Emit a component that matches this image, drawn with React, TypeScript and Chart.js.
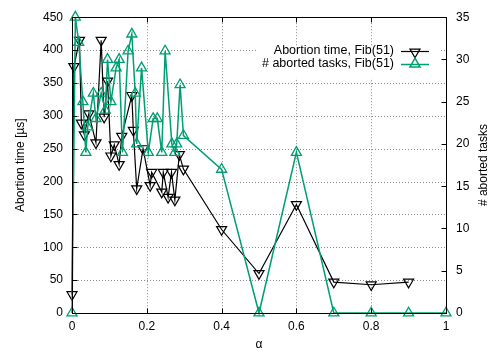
import React, { useEffect, useRef } from "react";
import { Chart, registerables } from "chart.js";

Chart.register(...registerables);

// Abortion time [µs] (left axis) vs alpha
const timeAlpha = [0, 0.005, 0.02, 0.025, 0.033, 0.045, 0.064, 0.078, 0.086, 0.095, 0.104, 0.113, 0.126, 0.133, 0.16, 0.164, 0.173, 0.19, 0.209, 0.213, 0.24, 0.244, 0.257, 0.266, 0.275, 0.287, 0.298, 0.4, 0.5, 0.6, 0.7, 0.8, 0.9];
const timeValues = [28, 375, 415, 289, 271, 303, 259, 415, 298, 353, 239, 256, 226, 269, 331, 278, 189, 250, 194, 214, 184, 214, 176, 214, 172, 241, 219, 127, 60, 165, 47, 43, 47];

// # aborted tasks (right axis) vs alpha
const taskAlpha = [0, 0.009, 0.018, 0.029, 0.037, 0.042, 0.057, 0.064, 0.078, 0.089, 0.095, 0.104, 0.118, 0.126, 0.135, 0.15, 0.16, 0.169, 0.173, 0.186, 0.204, 0.217, 0.228, 0.24, 0.249, 0.267, 0.275, 0.28, 0.289, 0.298, 0.4, 0.5, 0.6, 0.7, 0.8, 0.9, 1.0];
const taskValues = [0, 35, 32, 25, 19, 22, 26, 23, 26, 24, 30, 25, 29, 30, 19, 31, 33, 26, 20, 29, 19, 23, 23, 19, 31, 20, 19, 20, 27, 21, 17, 0, 19, 0, 0, 0, 0];

const xTickLabels = ["0", "0.2", "0.4", "0.6", "0.8", "1"];
const seriesLabels = ["Abortion time, Fib(51)", "# aborted tasks, Fib(51)"];
const axisTitles = { x: "α", y: "Abortion time [µs]", y2: "# aborted tasks" };

const BLACK = "#000000";
const GREEN = "#009e73";
const FONT = "'Liberation Sans', Arial, sans-serif";

function drawTri(ctx: CanvasRenderingContext2D, x: number, y: number, r: number, down: boolean) {
  const dir = down ? -1 : 1;
  ctx.beginPath();
  for (let i = 0; i < 3; i++) {
    const a = (i * 2 * Math.PI) / 3;
    const px = x + Math.sin(a) * r;
    const py = y - dir * Math.cos(a) * r;
    if (i === 0) ctx.moveTo(px, py);
    else ctx.lineTo(px, py);
  }
  ctx.closePath();
  ctx.stroke();
}

const framePlugin = {
  id: "frame",
  beforeDatasetsDraw(chart: any) {
    const { ctx, chartArea: a, scales } = chart;
    ctx.save();
    ctx.strokeStyle = "#8a8a8a";
    ctx.lineWidth = 1;
    ctx.setLineDash([1, 2]);
    scales.y.ticks.forEach((t: any) => {
      if (t.value <= 0 || t.value >= 450) return;
      const py = Math.round(scales.y.getPixelForValue(t.value)) + 0.5;
      ctx.beginPath();
      ctx.moveTo(a.left, py);
      ctx.lineTo(a.right, py);
      ctx.stroke();
    });
    scales.x.ticks.forEach((t: any) => {
      if (t.value <= 0 || t.value >= 1) return;
      const px = Math.round(scales.x.getPixelForValue(t.value)) + 0.5;
      ctx.beginPath();
      ctx.moveTo(px, a.top);
      ctx.lineTo(px, a.bottom);
      ctx.stroke();
    });
    ctx.restore();
  },
  afterDatasetsDraw(chart: any) {
    const { ctx, chartArea: a, scales } = chart;
    ctx.save();
    ctx.strokeStyle = "#000";
    ctx.lineWidth = 1;
    ctx.setLineDash([]);
    const L = Math.round(a.left) + 0.5;
    const R = Math.round(a.right) + 0.5;
    const T = Math.round(a.top) + 0.5;
    const B = Math.round(a.bottom) + 0.5;
    ctx.strokeRect(L, T, R - L, B - T);
    const tl = 5;
    ctx.beginPath();
    scales.y.ticks.forEach((t: any) => {
      const py = Math.round(scales.y.getPixelForValue(t.value)) + 0.5;
      ctx.moveTo(L, py);
      ctx.lineTo(L + tl, py);
    });
    scales.y2.ticks.forEach((t: any) => {
      const py = Math.round(scales.y2.getPixelForValue(t.value)) + 0.5;
      ctx.moveTo(R, py);
      ctx.lineTo(R - tl, py);
    });
    scales.x.ticks.forEach((t: any) => {
      const px = Math.round(scales.x.getPixelForValue(t.value)) + 0.5;
      ctx.moveTo(px, B);
      ctx.lineTo(px, B - tl);
      ctx.moveTo(px, T);
      ctx.lineTo(px, T + tl);
    });
    ctx.stroke();

    // axis titles
    ctx.fillStyle = "#000";
    ctx.font = `12px ${FONT}`;
    ctx.textAlign = "center";
    ctx.textBaseline = "middle";
    const cy = (a.top + a.bottom) / 2;
    ctx.save();
    ctx.translate(21, cy);
    ctx.rotate(-Math.PI / 2);
    ctx.fillText(axisTitles.y, 0, 0);
    ctx.restore();
    ctx.save();
    ctx.translate(484, cy);
    ctx.rotate(-Math.PI / 2);
    ctx.fillText(axisTitles.y2, 0, 0);
    ctx.restore();
    ctx.fillText(axisTitles.x, (a.left + a.right) / 2, 345);

    // legend (opaque box)
    ctx.fillStyle = "#fff";
    ctx.fillRect(258, 46, 183, 32);
    ctx.font = `12.5px ${FONT}`;
    ctx.textAlign = "right";
    const rows = [
      { y: 51, color: BLACK, down: true, text: seriesLabels[0], w: 1.2 },
      { y: 64, color: GREEN, down: false, text: seriesLabels[1], w: 1.5 },
    ];
    rows.forEach((r) => {
      ctx.fillStyle = "#000";
      ctx.fillText(r.text, 394, r.y);
      ctx.strokeStyle = r.color;
      ctx.lineWidth = r.w;
      ctx.beginPath();
      ctx.moveTo(401, r.y + 0.5);
      ctx.lineTo(429, r.y + 0.5);
      ctx.stroke();
      drawTri(ctx, 415, r.y + (r.down ? 1 : 0), 5.8, r.down);
    });
    ctx.restore();
  },
};

export default function App() {
  const ref = useRef<HTMLCanvasElement | null>(null);
  useEffect(() => {
    if (!ref.current) return;
    const timeData = timeAlpha.map((x, i) => ({ x, y: timeValues[i] }));
    const taskData = taskAlpha.map((x, i) => ({ x, y: taskValues[i] }));
    const tickFont = { family: FONT, size: 12 };
    const chart = new Chart(ref.current, {
      type: "scatter",
      data: {
        datasets: [
          {
            label: seriesLabels[0],
            data: timeData,
            yAxisID: "y",
            showLine: true,
            borderColor: BLACK,
            backgroundColor: "rgba(0,0,0,0)",
            borderWidth: 1.2,
            pointStyle: "triangle",
            rotation: 180,
            pointRadius: 5.8,
            pointBorderWidth: 1.2,
            pointBorderColor: BLACK,
            pointBackgroundColor: "rgba(0,0,0,0)",
            clip: false as any,
            order: 2,
          },
          {
            label: seriesLabels[1],
            data: taskData,
            yAxisID: "y2",
            showLine: true,
            borderColor: GREEN,
            backgroundColor: "rgba(0,0,0,0)",
            borderWidth: 1.5,
            pointStyle: "triangle",
            pointRadius: 5.8,
            pointBorderWidth: 1.3,
            pointBorderColor: GREEN,
            pointBackgroundColor: "rgba(0,0,0,0)",
            clip: false as any,
            order: 1,
          },
        ],
      },
      options: {
        responsive: false,
        animation: false,
        devicePixelRatio: 1,
        layout: { padding: { top: 12, left: 0, right: 0, bottom: 0 } },
        plugins: { legend: { display: false }, tooltip: { enabled: false } },
        scales: {
          x: {
            type: "linear",
            min: 0,
            max: 1,
            ticks: {
              stepSize: 0.2,
              color: "#000",
              font: tickFont,
              padding: 6,
              maxRotation: 0,
              callback: (_v: any, i: number) => xTickLabels[i] ?? "",
            },
            grid: { display: false, drawTicks: false },
            border: { display: false },
            afterFit: (s: any) => {
              s.height = 40;
            },
          },
          y: {
            type: "linear",
            position: "left",
            min: 0,
            max: 450,
            ticks: { stepSize: 50, color: "#000", font: tickFont, padding: 9 },
            grid: { display: false, drawTicks: false },
            border: { display: false },
            afterFit: (s: any) => {
              s.width = 72;
            },
          },
          y2: {
            type: "linear",
            position: "right",
            min: 0,
            max: 35,
            ticks: { stepSize: 5, color: "#000", font: tickFont, padding: 10 },
            grid: { display: false, drawTicks: false },
            border: { display: false },
            afterFit: (s: any) => {
              s.width = 57;
            },
          },
        },
      },
      plugins: [framePlugin],
    } as any);
    return () => chart.destroy();
  }, []);
  return (
    <div style={{ position: "absolute", left: 0, top: 0, width: 503, height: 353, background: "#fff" }}>
      <canvas ref={ref} width={503} height={353} style={{ display: "block" }} />
    </div>
  );
}
